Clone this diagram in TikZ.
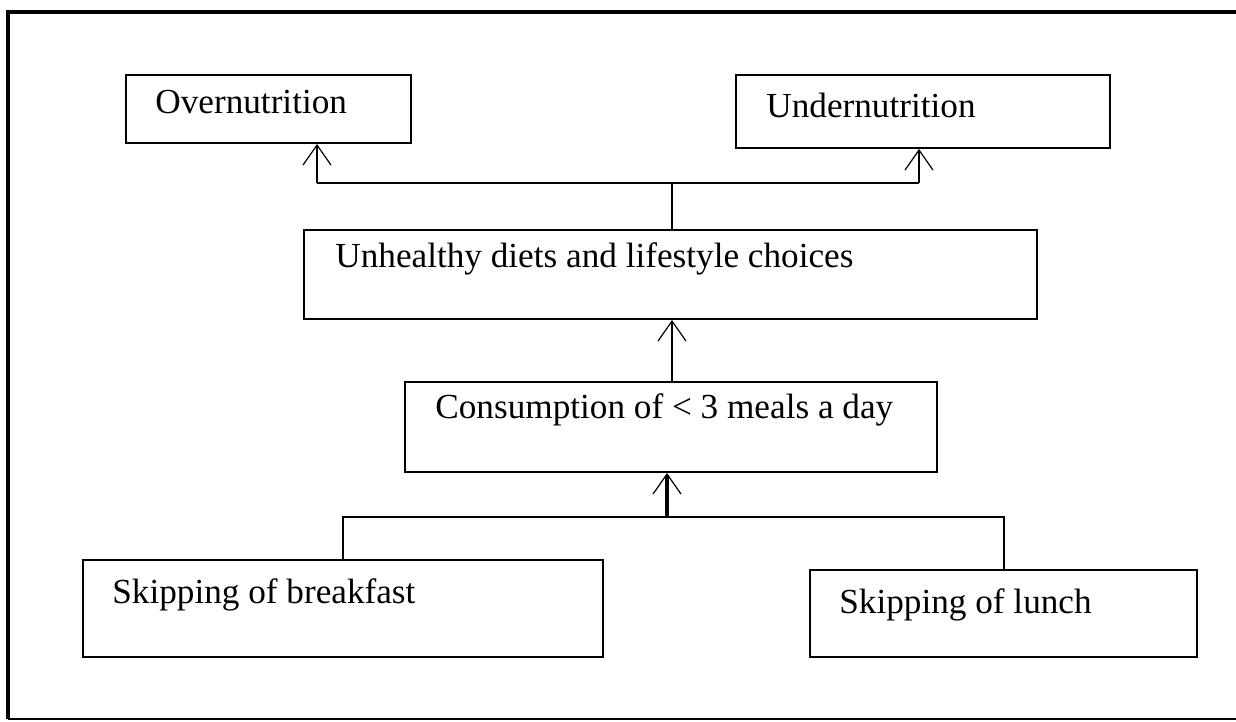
\documentclass[tikz,border=0pt]{standalone}
\usepackage{fontspec}
\setmainfont{Liberation Serif}
\usetikzlibrary{arrows.meta}

\begin{document}
\begin{tikzpicture}[
    x=0.5pt, y=-0.5pt,
    box/.style={draw, line width=1pt, inner sep=0pt, anchor=north west},
    txt/.style={inner sep=0pt, anchor=base west, font=\fontsize{17.6}{20}\selectfont},
    link/.style={line width=1pt},
    up-arr/.style={-{Straight Barb[length=10pt, width=14pt, line width=0.6pt]}},
    frame/.style={line width=2pt}
  ]
\useasboundingbox (0,0) rectangle (1236,722);

% Outer frame (right side cut off)
\draw[frame] (1236,12) -- (8,12) -- (8,719);
\draw[line width=1.2pt] (8,719) -- (1236,719);

% Top row: the two outcomes
\node[box, minimum width=142.5pt, minimum height=34pt] (over) at (125,74) {};
\node[txt] (over-t) at ([shift={(30,39)}]over.north west) {Overnutrition};
\node[box, minimum width=187pt, minimum height=36.5pt] (under) at (735,74) {};
\node[txt] (under-t) at ([shift={(31,44)}]under.north west) {Undernutrition};

% Middle boxes
\node[box, minimum width=366.5pt, minimum height=44.5pt] (unh) at (303,229) {};
\node[txt] (unh-t) at ([shift={(32,38)}]unh.north west) {Unhealthy diets and lifestyle choices};
\node[box, minimum width=266pt, minimum height=45pt] (cons) at (404,381) {};
\node[txt] (cons-t) at ([shift={(31,37)}]cons.north west) {Consumption of < 3 meals a day};

% Bottom row: the causes
\node[box, minimum width=260pt, minimum height=48.5pt] (brk) at (82,559) {};
\node[txt] (brk-t) at ([shift={(30,44)}]brk.north west) {Skipping of breakfast};
\node[box, minimum width=193.5pt, minimum height=43.5pt] (lun) at (809,569) {};
\node[txt] (lun-t) at ([shift={(30,44)}]lun.north west) {Skipping of lunch};

% Junction points
\coordinate (overj) at (317,183);
\coordinate (underj) at (919,183);
\coordinate (topj) at (672,183);
\coordinate (botj) at (667,517);

% Connectors, top
\draw[link] (unh.north -| topj) -- (topj);
\draw[link] (overj) -- (underj);
\draw[link, up-arr] (overj) -- (overj |- over.south);
\draw[link, up-arr] (underj) -- (underj |- under.south);

% Connectors, middle
\draw[link, up-arr] (cons.north -| topj) -- (unh.south -| topj);

% Connectors, bottom
\draw[link] (brk.north) -- (brk.north |- botj) -- (lun.north |- botj) -- (lun.north);
\draw[line width=1.8pt, up-arr] (botj) -- (botj |- cons.south);

\end{tikzpicture}
\end{document}
